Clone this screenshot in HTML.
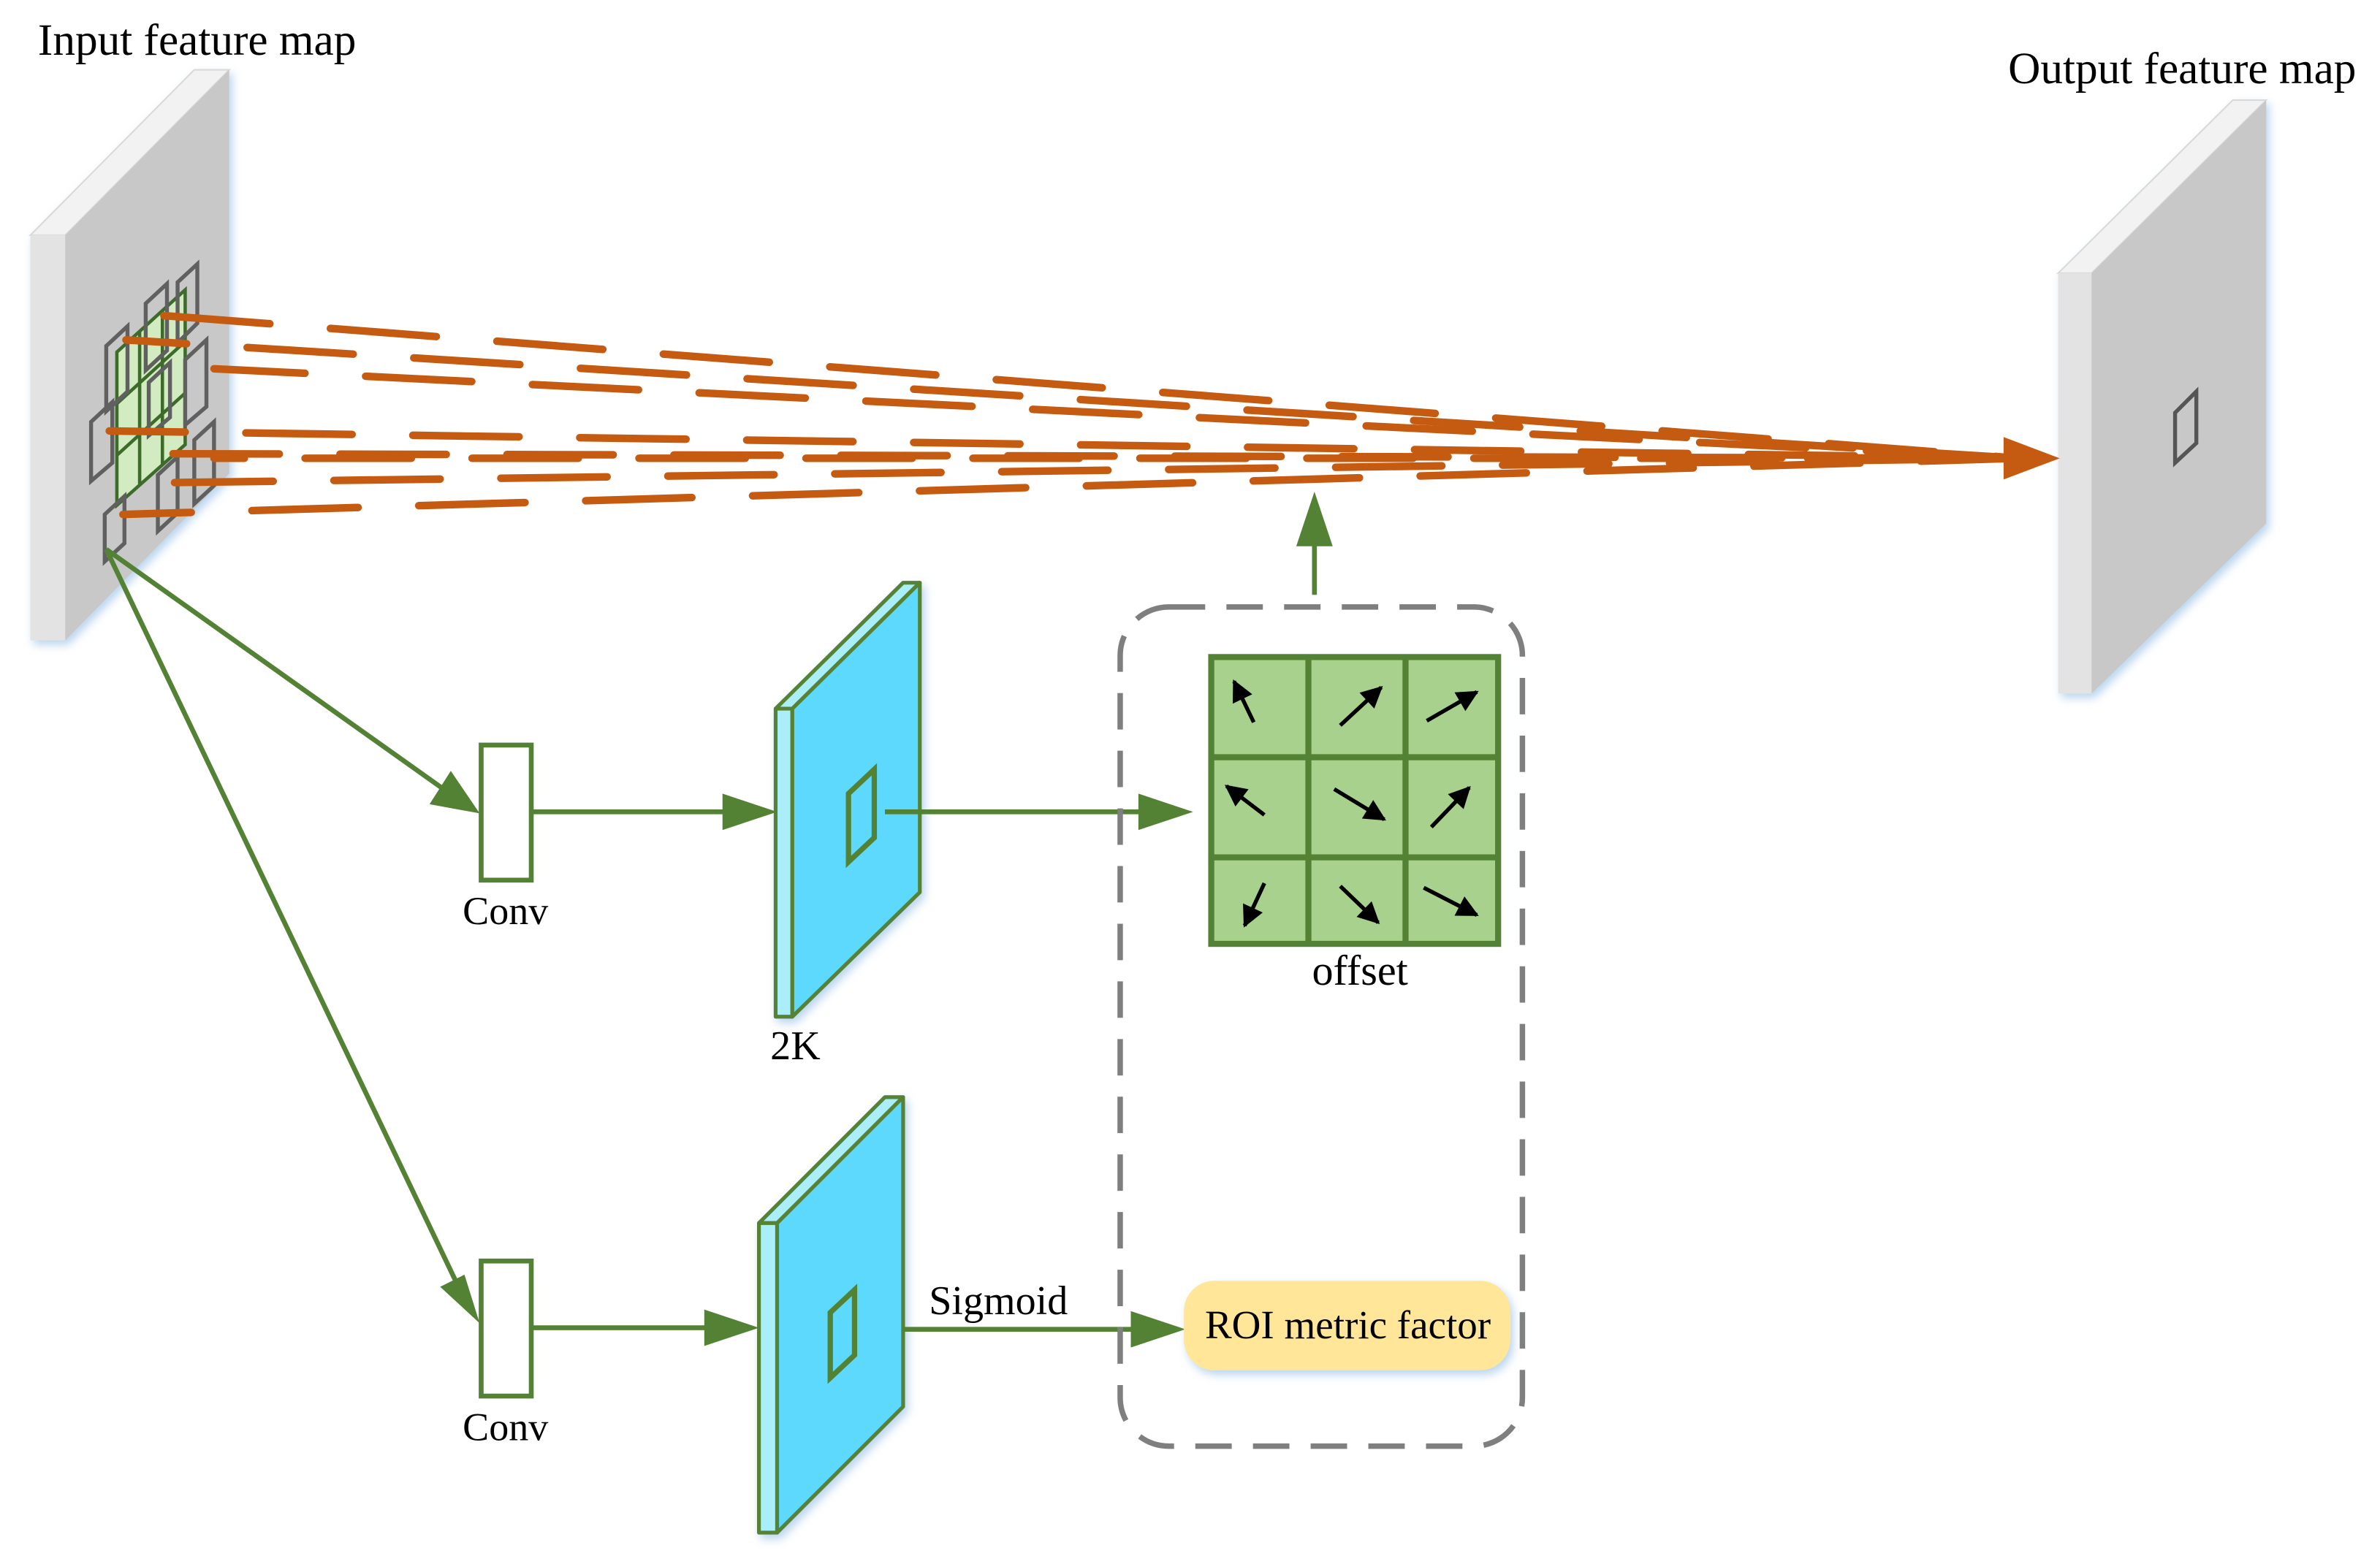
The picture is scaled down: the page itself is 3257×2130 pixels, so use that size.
<!DOCTYPE html>
<html><head><meta charset="utf-8"><style>
html,body{margin:0;padding:0;background:#fff;}
svg{display:block;}
text{font-family:"Liberation Serif",serif;fill:#000;}
</style></head><body>
<svg width="3257" height="2130" viewBox="0 0 1568 1025.4" preserveAspectRatio="none" xmlns="http://www.w3.org/2000/svg">
<defs>
<marker id="bk" viewBox="0 0 10 10" refX="9" refY="5" markerWidth="6" markerHeight="5.5" orient="auto" markerUnits="strokeWidth"><path d="M0,0 L10,5 L0,10 Z" fill="#000"/></marker>
<filter id="sh" x="-20%" y="-20%" width="140%" height="140%"><feDropShadow dx="2" dy="3" stdDeviation="3" flood-color="#9cc3e6" flood-opacity="0.7"/></filter>
</defs>
<text x="25" y="36" font-size="29.5">Input feature map</text>
<text x="1323" y="55" font-size="29.5">Output feature map</text>

<!-- input panel -->
<g filter="url(#sh)">
<polygon points="20,155 43,155 151,46 128,46" fill="#f2f2f2" stroke="#d9d9d9" stroke-width="1"/>
<rect x="20" y="155" width="23" height="267" fill="#e3e3e3"/>
<polygon points="43,155 151,46 151,312 43,422" fill="#c8c8c8"/>
</g>
<g stroke="#3d6b2a" stroke-width="2.2" fill="none">
<polygon points="77,232 122,191 122,293 77,333" fill="#d3ebc0"/>
<line x1="92" y1="218" x2="92" y2="319"/>
<line x1="107" y1="205" x2="107" y2="306"/>
<line x1="77" y1="266" x2="122" y2="225"/>
<line x1="77" y1="300" x2="122" y2="259"/>
</g>
<g stroke="#606060" stroke-width="2.6" fill="none">
<polygon points="70,228 84,215 84,258 70,271"/>
<polygon points="96,200 110,187 110,231 96,244"/>
<polygon points="117,186 130,174 130,213 117,226"/>
<polygon points="122,237 136,224 136,268 122,280"/>
<polygon points="60,278 74,265 74,305 60,317"/>
<polygon points="98,252 112,239 112,275 98,287"/>
<polygon points="128,290 141,278 141,320 128,332"/>
<polygon points="69,339 82,327 82,358 69,370"/>
<polygon points="104,313 117,301 117,338 104,350"/>
</g>

<!-- output panel -->
<g filter="url(#sh)">
<polygon points="1356,180 1378,180 1493,66 1471,66" fill="#f2f2f2" stroke="#d9d9d9" stroke-width="1"/>
<rect x="1356" y="180" width="22" height="277" fill="#e3e3e3"/>
<polygon points="1378,180 1493,66 1493,345 1378,457" fill="#c8c8c8"/>
</g>
<polygon points="1433,272 1447,258 1447,292 1433,305" fill="none" stroke="#555" stroke-width="2.6"/>

<!-- orange dashed lines -->
<g stroke="#c55a11" stroke-width="5" stroke-linecap="round" fill="none" stroke-dasharray="70 40">
<line x1="108" y1="208" x2="1330" y2="302" stroke-dashoffset="0"/>
<line x1="83" y1="224" x2="1330" y2="302" stroke-dashoffset="30"/>
<line x1="141" y1="243" x2="1330" y2="302" stroke-dashoffset="10"/>
<line x1="72" y1="284" x2="1330" y2="302" stroke-dashoffset="20"/>
<line x1="114" y1="299" x2="1330" y2="302" stroke-dashoffset="0"/>
<line x1="141" y1="302" x2="1330" y2="302" stroke-dashoffset="50"/>
<line x1="115" y1="318" x2="1330" y2="302" stroke-dashoffset="5"/>
<line x1="81" y1="339" x2="1330" y2="302" stroke-dashoffset="25"/>
</g>
<polygon points="1320,288 1357,302 1320,316" fill="#c55a11"/>

<!-- blue panel 1 -->
<g stroke="#548235" stroke-width="2.5" stroke-linejoin="round" filter="url(#sh)">
<polygon points="511,467 522,467 606,384 595,384" fill="#a9eef8"/>
<rect x="511" y="467" width="11" height="203" fill="#a9eef8"/>
<polygon points="522,467 606,384 606,588 522,670" fill="#5bd9fc"/>
</g>
<polygon points="559,523 576,507 576,552 559,568" fill="none" stroke="#548235" stroke-width="3.5"/>
<text x="524" y="698" font-size="27" text-anchor="middle">2K</text>

<!-- blue panel 2 -->
<g stroke="#548235" stroke-width="2.5" stroke-linejoin="round" filter="url(#sh)">
<polygon points="500,806 512,806 595,723 583,723" fill="#a9eef8"/>
<rect x="500" y="806" width="12" height="204" fill="#a9eef8"/>
<polygon points="512,806 595,723 595,927 512,1010" fill="#5bd9fc"/>
</g>
<polygon points="547,865 563,850 563,893 547,908" fill="none" stroke="#548235" stroke-width="3.5"/>
<text x="612" y="866" font-size="27">Sigmoid</text>

<!-- green arrows -->
<g stroke="#548235" stroke-width="3.2" fill="none">
<line x1="70" y1="362" x2="295" y2="522"/>
<line x1="70" y1="362" x2="303" y2="850"/>
<line x1="350" y1="535" x2="480" y2="535"/>
<line x1="583" y1="535" x2="752" y2="535"/>
<line x1="350" y1="875" x2="470" y2="875"/>
<line x1="595" y1="876" x2="750" y2="876"/>
<line x1="866" y1="392" x2="866" y2="350"/>
</g>
<g fill="#548235">
<polygon points="316,536 283,530 297,508"/>
<polygon points="316,872 290,848 306,840"/>
<polygon points="512,535 476,523 476,547"/>
<polygon points="786,535 750,523 750,547"/>
<polygon points="500,875 464,863 464,887"/>
<polygon points="781,876 745,864 745,888"/>
<polygon points="866,324 854,360 878,360"/>
</g>

<!-- conv boxes -->
<rect x="317" y="491" width="33" height="89" fill="#fff" stroke="#548235" stroke-width="3.2"/>
<text x="333" y="609" font-size="26" text-anchor="middle">Conv</text>
<rect x="317" y="831" width="33" height="89" fill="#fff" stroke="#548235" stroke-width="3.2"/>
<text x="333" y="949" font-size="26" text-anchor="middle">Conv</text>

<!-- dashed box -->
<rect x="738" y="400" width="265" height="553" rx="32" fill="none" stroke="#7f7f7f" stroke-width="3.6" stroke-dasharray="24 14"/>

<!-- offset grid -->
<g stroke="#548235" stroke-width="4" fill="#a9d18e">
<rect x="798" y="433" width="189" height="189"/>
<line x1="862" y1="433" x2="862" y2="622"/>
<line x1="926" y1="433" x2="926" y2="622"/>
<line x1="798" y1="499" x2="987" y2="499"/>
<line x1="798" y1="565" x2="987" y2="565"/>
</g>
<g stroke="#000" stroke-width="2.6" marker-end="url(#bk)">
<line x1="826" y1="476" x2="813" y2="449"/>
<line x1="883" y1="478" x2="910" y2="453"/>
<line x1="940" y1="475" x2="973" y2="456"/>
<line x1="833" y1="537" x2="808" y2="518"/>
<line x1="879" y1="520" x2="912" y2="540"/>
<line x1="943" y1="545" x2="968" y2="519"/>
<line x1="833" y1="582" x2="820" y2="610"/>
<line x1="883" y1="584" x2="908" y2="608"/>
<line x1="938" y1="585" x2="973" y2="603"/>
</g>
<text x="896" y="649" font-size="28" text-anchor="middle">offset</text>

<!-- ROI box -->
<rect x="780" y="844" width="215" height="59" rx="20" fill="#ffe699" filter="url(#sh)"/>
<text x="888" y="882" font-size="26.5" text-anchor="middle">ROI metric factor</text>
</svg>
</body></html>
